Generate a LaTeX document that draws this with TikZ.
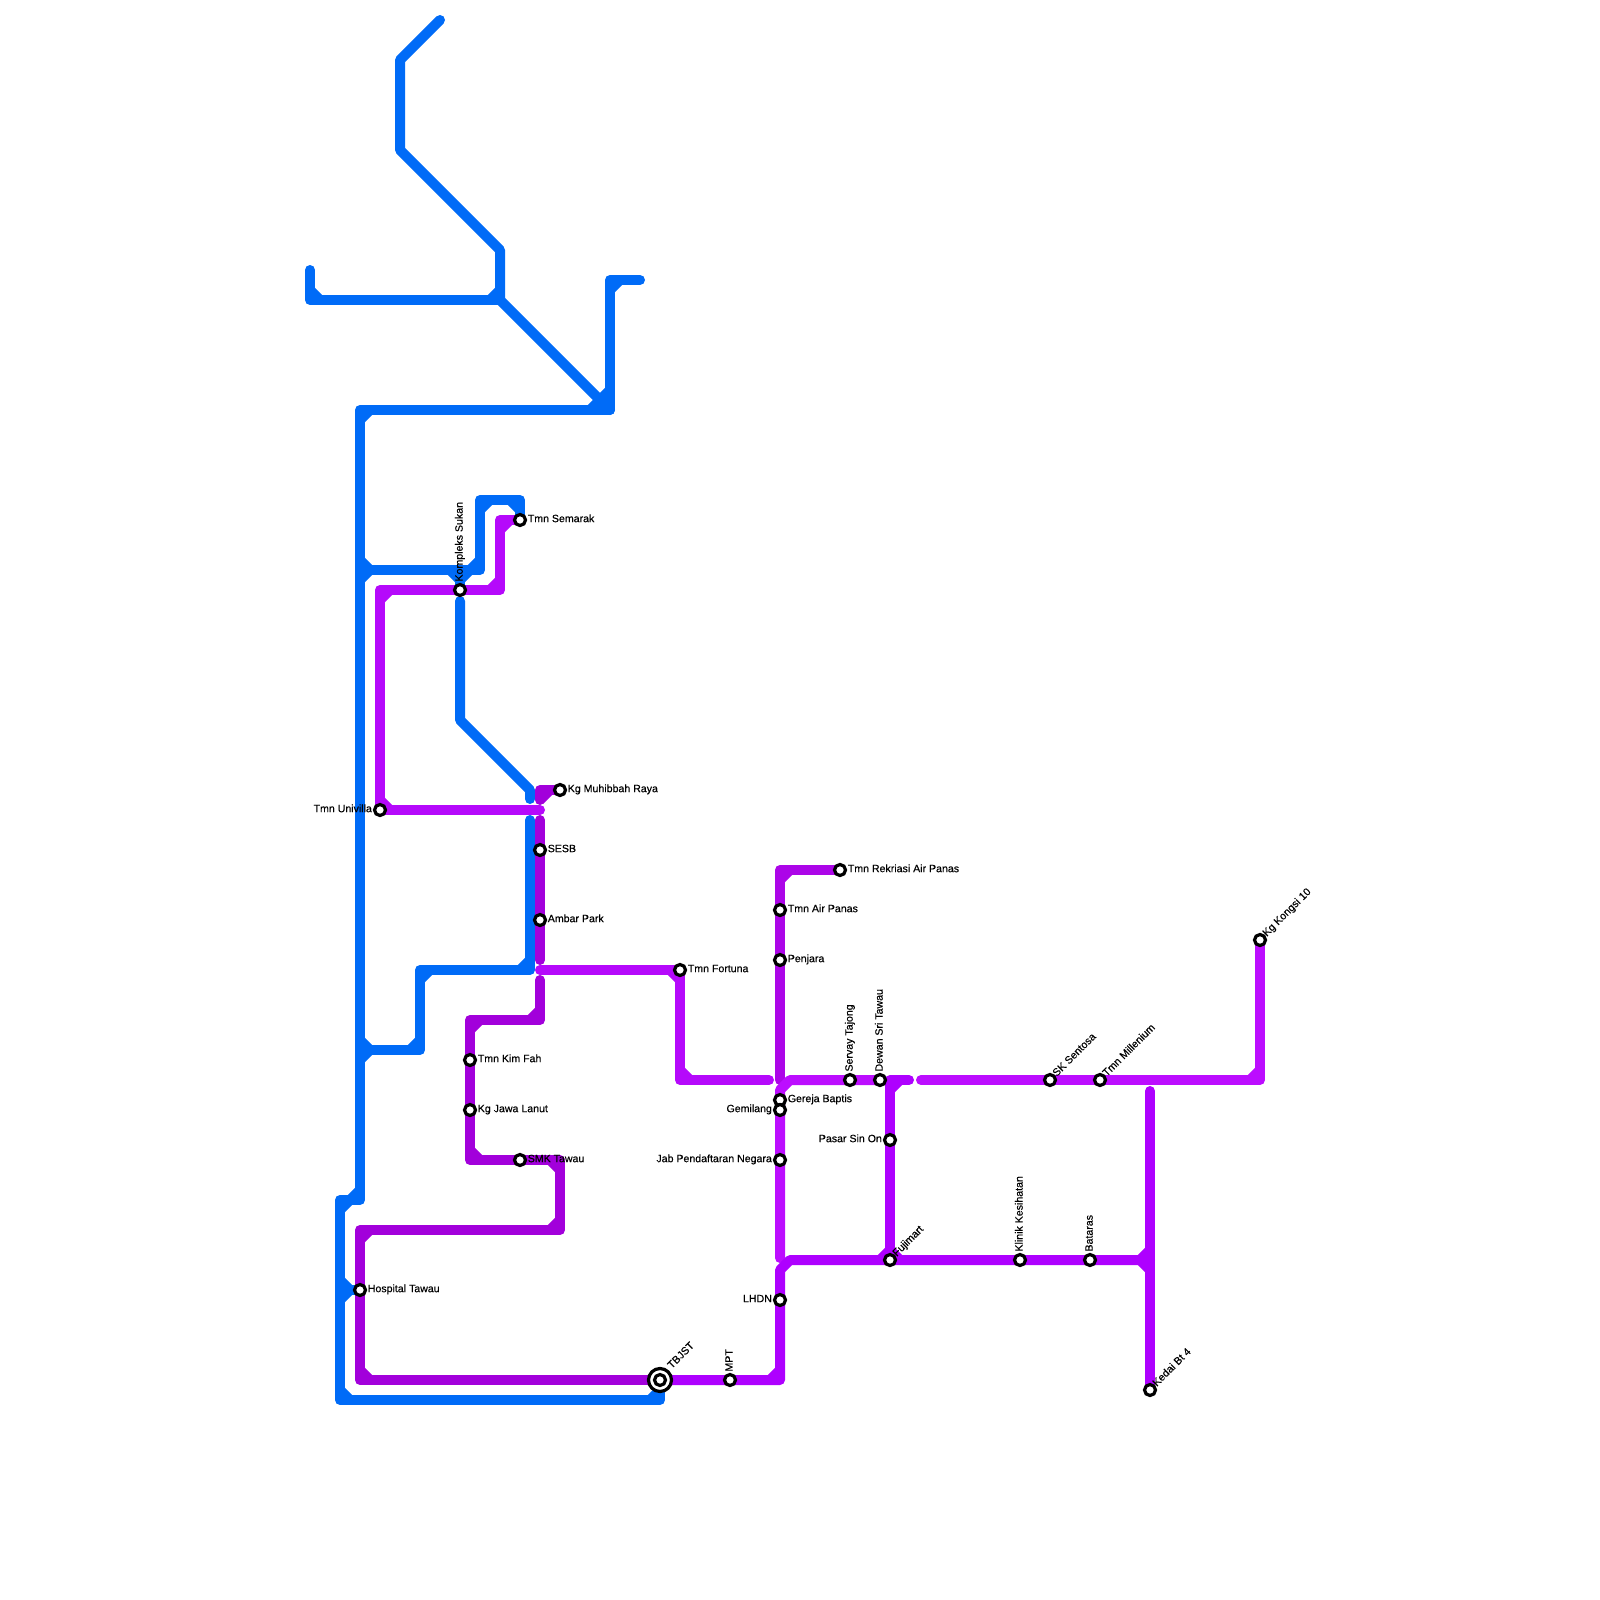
\documentclass[tikz,border=0pt]{standalone}
\usepackage{fontspec}
\setmainfont{Liberation Sans}[FakeBold=0.3]
\usepackage{xcolor}
\usetikzlibrary{positioning,calc,backgrounds}
\definecolor{routeblue}{HTML}{006BF7}
\definecolor{routeviolet}{HTML}{A200DB}
\definecolor{routemid}{HTML}{AC05E8}
\definecolor{routebright}{HTML}{B509FB}
\definecolor{routepure}{HTML}{AE00FF}
\definecolor{routelight}{HTML}{BC0DFF}
\tikzset{
  route/.style={line width=10pt, line cap=round, line join=round},
  cut/.style={line width=10pt},
  stop/.style={circle, draw=black, fill=white, line width=3.2pt, minimum size=11pt, inner sep=0pt},
  hub/.style={circle, draw=black, fill=white, line width=3.2pt, minimum size=23pt, inner sep=0pt},
  lbl/.style={font=\fontsize{10.6}{12}\selectfont, inner sep=0pt, text height=7.5pt, text depth=2.2pt},
  lbright/.style={lbl, right=0.5pt of #1, yshift=0.5pt},
  lbleft/.style={lbl, left=0.8pt of #1, yshift=0.5pt},
  lbup/.style={lbl, above=2.2pt of #1, anchor=west, rotate=90, xshift=-1pt},
  lbdiag/.style={lbl, above right=-0.2pt and -0.2pt of #1, anchor=west, rotate=45}
}
\begin{document}
\begin{tikzpicture}[x=1pt, y=-1pt]
  \useasboundingbox (0,0) rectangle (1600,1600);
  % stops
  \node[stop] (semarak) at (520,520) {};
  \node[stop] (kompleks) at (460,590) {};
  \node[stop] (univilla) at (380,810) {};
  \node[stop] (muhibbah) at (560,790) {};
  \node[stop] (sesb) at (540,850) {};
  \node[stop] (ambar) at (540,920) {};
  \node[stop] (fortuna) at (680,970) {};
  \node[stop] (kimfah) at (470,1060) {};
  \node[stop] (jawa) at (470,1110) {};
  \node[stop] (smk) at (520,1160) {};
  \node[stop] (hospital) at (360,1290) {};
  \node[hub] (tbjsthub) at (660,1380) {};
  \node[stop] (tbjst) at (660,1380) {};
  \node[stop] (mpt) at (730,1380) {};
  \node[stop] (lhdn) at (780,1300) {};
  \node[stop] (jab) at (780,1160) {};
  \node[stop] (gereja) at (780,1100) {};
  \node[stop] (gemilang) at (780,1110) {};
  \node[stop] (penjara) at (780,960) {};
  \node[stop] (airpanas) at (780,910) {};
  \node[stop] (rekriasi) at (840,870) {};
  \node[stop] (servay) at (850,1080) {};
  \node[stop] (dewan) at (880,1080) {};
  \node[stop] (pasar) at (890,1140) {};
  \node[stop] (fujimart) at (890,1260) {};
  \node[stop] (klinik) at (1020,1260) {};
  \node[stop] (bataras) at (1090,1260) {};
  \node[stop] (sentosa) at (1050,1080) {};
  \node[stop] (millenium) at (1100,1080) {};
  \node[stop] (kongsi) at (1260,940) {};
  \node[stop] (kedai) at (1150,1390) {};
  % labels
  \node[lbright=semarak] (semaraktxt) {Tmn Semarak};
  \node[lbup=kompleks] (komplekstxt) {Kompleks Sukan};
  \node[lbleft=univilla] (univillatxt) {Tmn Univilla};
  \node[lbright=muhibbah] (muhibbahtxt) {Kg Muhibbah Raya};
  \node[lbright=sesb] (sesbtxt) {SESB};
  \node[lbright=ambar] (ambartxt) {Ambar Park};
  \node[lbright=fortuna] (fortunatxt) {Tmn Fortuna};
  \node[lbright=kimfah] (kimfahtxt) {Tmn Kim Fah};
  \node[lbright=jawa] (jawatxt) {Kg Jawa Lanut};
  \node[lbright=smk] (smktxt) {SMK Tawau};
  \node[lbright=hospital] (hospitaltxt) {Hospital Tawau};
  \node[lbdiag=tbjsthub, xshift=3pt, yshift=2pt] (tbjsttxt) {TBJST};
  \node[lbup=mpt] (mpttxt) {MPT};
  \node[lbleft=lhdn] (lhdntxt) {LHDN};
  \node[lbleft=jab] (jabtxt) {Jab Pendaftaran Negara};
  \node[lbright=gereja] (gerejatxt) {Gereja Baptis};
  \node[lbleft=gemilang] (gemilangtxt) {Gemilang};
  \node[lbright=penjara] (penjaratxt) {Penjara};
  \node[lbright=airpanas] (airpanastxt) {Tmn Air Panas};
  \node[lbright=rekriasi] (rekriasitxt) {Tmn Rekriasi Air Panas};
  \node[lbup=servay] (servaytxt) {Servay Tajong};
  \node[lbup=dewan] (dewantxt) {Dewan Sri Tawau};
  \node[lbleft=pasar] (pasartxt) {Pasar Sin On};
  \node[lbdiag=fujimart] (fujimarttxt) {Fujimart};
  \node[lbup=klinik] (klinitxt) {Klinik Kesihatan};
  \node[lbup=bataras] (batarastxt) {Bataras};
  \node[lbdiag=sentosa] (sentosatxt) {SK Sentosa};
  \node[lbdiag=millenium] (milleniumtxt) {Tmn Millenium};
  \node[lbdiag=kongsi] (kongsitxt) {Kg Kongsi 10};
  \node[lbdiag=kedai] (kedaitxt) {Kedai Bt 4};
  % bends
  \coordinate (b1) at (440,20);
  \coordinate (b2) at (400,60);
  \coordinate (b3) at (400,150);
  \coordinate (b4) at (500,250);
  \coordinate (b5) at (500,300);
  \coordinate (b6) at (610,410);
  \coordinate (b7) at (310,270);
  \coordinate (b8) at (310,300);
  \coordinate (b9) at (640,280);
  \coordinate (b10) at (610,280);
  \coordinate (b11) at (360,410);
  \coordinate (b12) at (360,1200);
  \coordinate (b13) at (340,1200);
  \coordinate (b14) at (340,1400);
  \coordinate (b15) at (660,1400);
  \coordinate (b16) at (360,570);
  \coordinate (b17) at (460,570);
  \coordinate (b18) at (480,570);
  \coordinate (b19) at (480,500);
  \coordinate (b20) at (520,500);
  \coordinate (b21) at (460,601);
  \coordinate (b22) at (460,720);
  \coordinate (b23) at (530,790);
  \coordinate (b24) at (530,799);
  \coordinate (b25) at (530,820);
  \coordinate (b26) at (530,970);
  \coordinate (b27) at (420,970);
  \coordinate (b28) at (420,1050);
  \coordinate (b29) at (360,1050);
  \coordinate (b30) at (340,1290);
  \coordinate (p1) at (500,520);
  \coordinate (p2) at (500,590);
  \coordinate (p3) at (380,590);
  \coordinate (p4) at (540,810);
  \coordinate (v1) at (540,790);
  \coordinate (v2) at (540,800);
  \coordinate (v3) at (540,820);
  \coordinate (v4) at (540,960);
  \coordinate (v5) at (540,980);
  \coordinate (v6) at (540,1020);
  \coordinate (v7) at (470,1020);
  \coordinate (v8) at (470,1160);
  \coordinate (v9) at (560,1160);
  \coordinate (v10) at (560,1230);
  \coordinate (v11) at (360,1230);
  \coordinate (v12) at (360,1380);
  \coordinate (f1) at (540,970);
  \coordinate (f2) at (680,1080);
  \coordinate (f3) at (769,1080);
  \coordinate (a1) at (780,870);
  \coordinate (a2) at (780,1080);
  \coordinate (g1) at (790,1080);
  \coordinate (g2) at (780,1090);
  \coordinate (g3) at (780,1258);
  \coordinate (h1) at (909,1080);
  \coordinate (h2) at (890,1080);
  \coordinate (c1) at (780,1380);
  \coordinate (c2) at (780,1270);
  \coordinate (c3) at (790,1260);
  \coordinate (c4) at (1150,1260);
  \coordinate (d1) at (1150,1091);
  \coordinate (e1) at (921,1080);
  \coordinate (e2) at (1260,1080);
  \begin{scope}[on background layer]
    % blue
    \draw[route, routeblue] (b1) -- (b2) -- (b3) -- (b4) -- (b5) -- (b6);
    \draw[route, routeblue] (b7) -- (b8) -- (b5);
    \draw[route, routeblue] (b9) -- (b10) -- (b6) -- (b11) -- (b12) -- (b13) -- (b14) -- (b15) -- (tbjst.center);
    \draw[route, routeblue] (b16) -- (b18) -- (b19) -- (b20) -- (semarak.center);
    \draw[route, routeblue] (b17) -- (kompleks.center);
    \draw[route, routeblue] (b21) -- (b22) -- (b23) -- (b24);
    \draw[route, routeblue] (b25) -- (b26) -- (b27) -- (b28) -- (b29);
    \draw[route, routeblue] (b30) -- (hospital.center);
    \foreach \corner/\sx/\sy in {b8/1/-1, b5/-1/-1, b6/-2/-2, b10/1/1, b11/1/1, b12/-1/-1, b13/1/1, b14/1/-1, b15/-1/-1,
      b16/1/-1, b16/1/1, b17/-1/1, b17/1/1, b18/-1/-1, b19/1/1, b20/-1/1, b26/-1/-1, b27/1/1, b28/-1/-1,
      b29/1/-1, b29/1/1, b30/1/-1, b30/1/1}
      \draw[cut, routeblue] ($(\corner)+(\sx*10,0)$) -- ($(\corner)+(0,\sy*10)$);
    % violet
    \draw[route, routeviolet] (muhibbah.center) -- (v1) -- (v2);
    \draw[route, routeviolet] (v3) -- (sesb.center) -- (ambar.center) -- (v4);
    \draw[route, routeviolet] (v5) -- (v6) -- (v7) -- (kimfah.center) -- (jawa.center) -- (v8) -- (smk.center) -- (v9) -- (v10) -- (v11) -- (hospital.center) -- (v12) -- (tbjst.center);
    \foreach \corner/\sx/\sy in {v1/1/1, v6/-1/-1, v7/1/1, v8/1/-1, v9/-1/1, v10/-1/-1, v11/1/1, v12/1/-1}
      \draw[cut, routeviolet] ($(\corner)+(\sx*10,0)$) -- ($(\corner)+(0,\sy*10)$);
    % bright
    \draw[route, routebright] (semarak.center) -- (p1) -- (p2) -- (kompleks.center) -- (p3) -- (univilla.center) -- (p4);
    \draw[route, routebright] (f1) -- (fortuna.center) -- (f2) -- (f3);
    \foreach \corner/\sx/\sy in {p1/1/1, p2/-1/-1, p3/1/1, univilla/1/-1, fortuna/-1/1, f2/1/-1}
      \draw[cut, routebright] ($(\corner)+(\sx*10,0)$) -- ($(\corner)+(0,\sy*10)$);
    % centre lines
    \draw[route, routemid] (rekriasi.center) -- (a1) -- (airpanas.center) -- (penjara.center) -- (a2);
    \draw[cut, routemid] ($(a1)+(10,0)$) -- ($(a1)+(0,10)$);
    \draw[route, routelight] (dewan.center) -- (servay.center) -- (g1) -- (g2) -- (gereja.center) -- (gemilang.center) -- (jab.center) -- (g3);
    \draw[route, routelight] (e1) -- (sentosa.center) -- (millenium.center) -- (e2) -- (kongsi.center);
    \draw[cut, routelight] ($(e2)+(-10,0)$) -- ($(e2)+(0,-10)$);
    % pure
    \draw[route, routepure] (h1) -- (h2) -- (pasar.center) -- (fujimart.center);
    \draw[route, routepure] (tbjst.center) -- (mpt.center) -- (c1) -- (lhdn.center) -- (c2) -- (c3) -- (fujimart.center) -- (klinik.center) -- (bataras.center) -- (c4);
    \draw[route, routepure] (d1) -- (c4) -- (kedai.center);
    \foreach \corner/\sx/\sy in {h2/1/1, fujimart/-1/-1, fujimart/1/-1, c1/-1/-1, c4/-1/-1, c4/-1/1}
      \draw[cut, routepure] ($(\corner)+(\sx*10,0)$) -- ($(\corner)+(0,\sy*10)$);
  \end{scope}
\end{tikzpicture}
\end{document}
